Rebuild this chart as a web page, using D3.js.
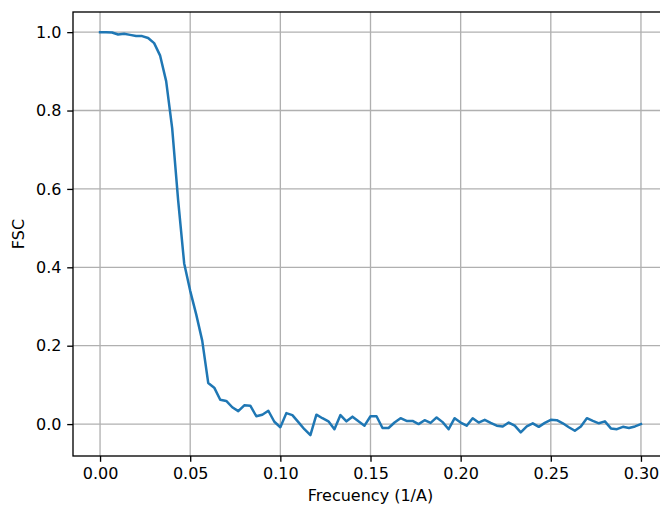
<!DOCTYPE html>
<html>
<head>
<meta charset="utf-8">
<script src="https://cdn.jsdelivr.net/npm/d3@7"></script>
<style>
  body { margin: 0; background: #fff; }
  svg { display: block; font-family: "DejaVu Sans", sans-serif; }
</style>
</head>
<body>
<div id="main"></div>
<script>
// FSC curve, one value per shell, shells spaced 1/300 from 0 to 0.30
const fscValues = [
  1.000, 1.000, 0.999, 0.994, 0.996, 0.993, 0.990, 0.990, 0.985, 0.972,
  0.940, 0.875, 0.755, 0.570, 0.410, 0.340, 0.280, 0.213, 0.105, 0.093,
  0.062, 0.059, 0.043, 0.033, 0.048, 0.047, 0.020, 0.024, 0.034, 0.006,
  -0.008, 0.028, 0.023, 0.005, -0.013, -0.028, 0.024, 0.015, 0.007, -0.013,
  0.023, 0.007, 0.019, 0.007, -0.004, 0.020, 0.020, -0.010, -0.010, 0.004,
  0.015, 0.008, 0.008, 0.000, 0.010, 0.003, 0.017, 0.005, -0.013, 0.015,
  0.004, -0.004, 0.015, 0.004, 0.011, 0.003, -0.004, -0.006, 0.004, -0.004,
  -0.021, -0.006, 0.002, -0.007, 0.003, 0.011, 0.010, 0.002, -0.008, -0.017,
  -0.006, 0.015, 0.008, 0.002, 0.007, -0.011, -0.013, -0.007, -0.010, -0.006,
  0.000
];
const freqStep = 1 / 300;
const xTicks = [0, 0.05, 0.10, 0.15, 0.20, 0.25, 0.30];
const yTicks = [0, 0.2, 0.4, 0.6, 0.8, 1.0];

const W = 660, H = 510;
const plotL = 73, plotR = 668, plotT = 12, plotB = 456;

const svg = d3.select('#main')
  .append('svg')
  .attr('width', W)
  .attr('height', H);

svg.append('rect').attr('width', W).attr('height', H).attr('fill', '#fff');

const x = d3.scaleLinear().domain([-0.015, 0.315]).range([plotL, plotR]);
const y = d3.scaleLinear().domain([-0.0814, 1.0514]).range([plotB, plotT]);

// grid
svg.append('g').selectAll('line')
  .data(xTicks).enter().append('line')
    .attr('x1', d => x(d)).attr('x2', d => x(d))
    .attr('y1', plotT).attr('y2', plotB)
    .attr('stroke', '#b0b0b0').attr('stroke-width', 1.33);
svg.append('g').selectAll('line')
  .data(yTicks).enter().append('line')
    .attr('x1', plotL).attr('x2', plotR)
    .attr('y1', d => y(d)).attr('y2', d => y(d))
    .attr('stroke', '#b0b0b0').attr('stroke-width', 1.33);

// curve
const line = d3.line()
  .x((d, i) => x(i * freqStep))
  .y(d => y(d));
svg.append('path')
  .datum(fscValues)
  .attr('d', line)
  .attr('fill', 'none')
  .attr('stroke', '#1f77b4')
  .attr('stroke-width', 2.5)
  .attr('stroke-linejoin', 'round')
  .attr('stroke-linecap', 'square');

// axes
const xAxis = d3.axisBottom(x).tickValues(xTicks).tickFormat(d3.format('.2f'))
  .tickSizeOuter(0).tickSizeInner(5.8).tickPadding(5.8);
const yAxis = d3.axisLeft(y).tickValues(yTicks).tickFormat(d3.format('.1f'))
  .tickSizeOuter(0).tickSizeInner(5.8).tickPadding(5.8);

const gx = svg.append('g').attr('transform', `translate(0,${plotB})`).call(xAxis);
const gy = svg.append('g').attr('transform', `translate(${plotL},0)`).call(yAxis);
[gx, gy].forEach(g => {
  g.select('.domain').remove();
  g.selectAll('line').attr('stroke', '#000').attr('stroke-width', 1.33);
  g.selectAll('text').attr('fill', '#000')
    .style('font-family', '"DejaVu Sans", sans-serif').style('font-size', '16px');
});

// spines
svg.append('rect')
  .attr('x', plotL).attr('y', plotT)
  .attr('width', plotR - plotL).attr('height', plotB - plotT)
  .attr('fill', 'none').attr('stroke', '#000').attr('stroke-width', 1.33);

// labels
svg.append('text')
  .text('Frecuency (1/A)')
  .attr('x', (plotL + plotR) / 2)
  .attr('y', 501)
  .attr('text-anchor', 'middle')
  .style('font-size', '16px');

svg.append('text')
  .text('FSC')
  .attr('transform', `translate(24,${(plotT + plotB) / 2}) rotate(-90)`)
  .attr('text-anchor', 'middle')
  .style('font-size', '16px');
</script>
</body>
</html>
